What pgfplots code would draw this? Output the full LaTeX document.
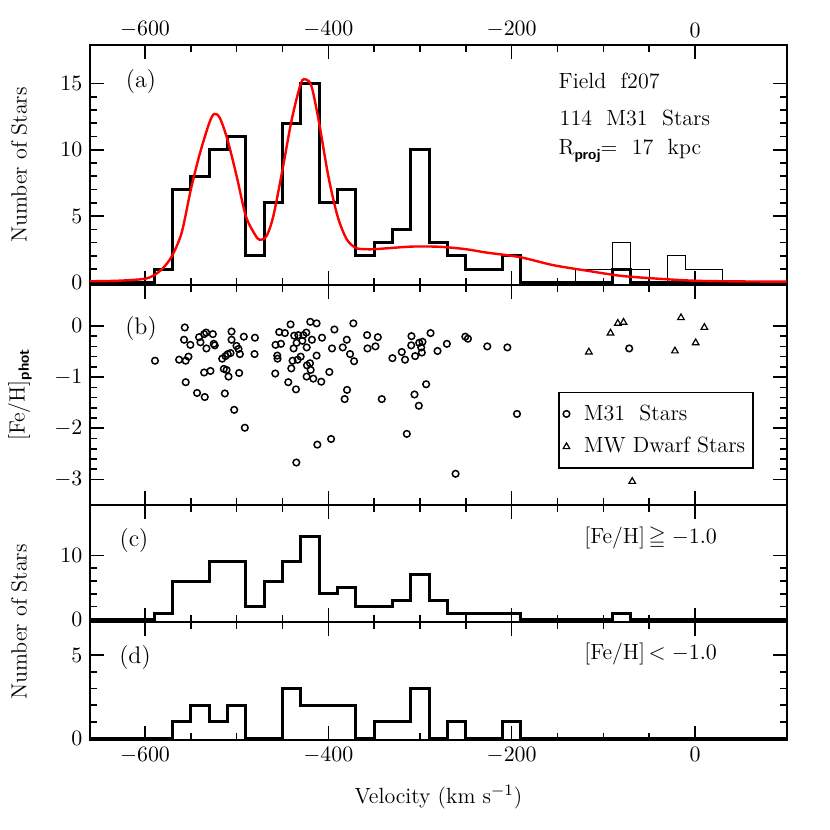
\documentclass[border=0pt]{standalone}
\usepackage{pgfplots}
\usepackage{amssymb}
\pgfplotsset{compat=1.18}
\newcommand{\sub}[1]{\raisebox{-0.45ex}{\fontsize{7.5}{8}\selectfont\sffamily\bfseries #1}}
\begin{document}
\fontsize{11}{13}\selectfont
\begin{tikzpicture}
\path[use as bounding box] (0,0) rectangle (415pt,415pt);
\pgfplotsset{
  myax/.style={
    scale only axis, width=348.35pt, anchor=south west,
    xmin=-660, xmax=100,
    xtick={-600,-400,-200,0}, minor x tick num=3,
    minor y tick num=4,
    tick align=inside,
    xtick pos=both, ytick pos=both,
    major tick length=7pt, minor tick length=3.5pt,
    axis line style={line width=1pt},
    every tick/.style={black, line width=0.8pt},
    tick label style={font=\fontsize{11}{13}\selectfont},
  },
  hist/.style={const plot, black, line width=1.5pt, mark=none},
}
% ---------------- panel (a)
\begin{axis}[myax, at={(45pt,272.5pt)}, height=120pt,
  ymin=-0.2, ymax=17.9, ytick={0,5,10,15}, xticklabel pos=upper]
\addplot[const plot, black, line width=0.5pt, mark=none] coordinates {
(-660,0) (-590,1) (-570,7) (-550,8) (-530,10) (-510,11) (-490,2) (-470,6)
(-450,12) (-430,15) (-410,6) (-390,7) (-370,2) (-350,3) (-330,4) (-310,10)
(-290,3) (-270,2) (-250,1) (-230,1) (-210,2) (-190,0) (-130,1) (-110,1)
(-90,3) (-70,1) (-50,0) (-30,2) (-10,1) (10,1) (30,0) (100,0)};
\addplot[hist] coordinates {
(-660,0) (-590,1) (-570,7) (-550,8) (-530,10) (-510,11) (-490,2) (-470,6)
(-450,12) (-430,15) (-410,6) (-390,7) (-370,2) (-350,3) (-330,4) (-310,10)
(-290,3) (-270,2) (-250,1) (-230,1) (-210,2) (-190,0) (-90,1) (-70,0) (100,0)};
\addplot[red, line width=1.2pt, smooth, mark=none] coordinates {
(-660,0.08) (-630,0.12) (-602,0.25) (-591,0.5) (-580,1.1) (-570.5,2) (-560,3.75)
(-550,7) (-540,9.75) (-530,12) (-524.6,12.7) (-518.4,12.4) (-510,10.75) (-500,8)
(-490,5) (-480,3.6) (-474.7,3.2) (-467.4,3.5) (-460,5) (-450,8.5) (-440,12.25)
(-430,15) (-424.4,15.3) (-418.2,14.75) (-410,12) (-400,8) (-390,5) (-380,3.25)
(-370,2.6) (-360,2.5) (-350,2.5) (-330,2.6) (-307,2.7) (-278,2.68) (-250,2.5)
(-228,2.25) (-191,1.9) (-155,1.3) (-118,0.88) (-82,0.5) (-46,0.3) (0,0.12) (50,0.07) (100,0.05)};
\end{axis}
% ---------------- panel (b)
\begin{axis}[myax, at={(45pt,162.5pt)}, height=110pt,
  ymin=-3.5, ymax=0.8, ytick={-3,-2,-1,0}, xticklabels={},
  legend style={at={(0.953,0.164)}, anchor=south east, draw=black, line width=0.8pt,
    font=\fontsize{11}{13}\selectfont, row sep=3pt, inner xsep=2pt, inner ysep=4pt,
    cells={anchor=west}},
  legend cell align=left]
\addplot[only marks, mark=o, mark size=1.65pt, mark options={line width=0.75pt, black}] coordinates {
(-589.1,-0.68) (-562.8,-0.66) (-556.6,-0.03) (-557.4,-0.27) (-550.5,-0.37) (-555.6,-0.68)
(-552.6,-0.60) (-555.6,-1.10) (-543.2,-1.31) (-534.8,-1.39) (-541.0,-0.22) (-535.5,-0.16)
(-533.3,-0.13) (-526.0,-0.16) (-539.5,-0.32) (-533.0,-0.44) (-525.0,-0.35) (-523.9,-0.38)
(-535.5,-0.91) (-528.6,-0.88) (-515.8,-0.64) (-512.2,-0.59) (-509.7,-0.55) (-506.7,-0.53)
(-514.0,-0.84) (-511.0,-0.86) (-508.9,-0.99) (-512.9,-1.32) (-505.6,-0.11) (-505.6,-0.27)
(-500.2,-0.39) (-496.5,-0.55) (-497.3,-0.92) (-492.2,-0.21) (-480.1,-0.23) (-480.5,-0.55)
(-502.7,-1.64) (-491.1,-1.99) (-457.6,-0.37) (-451.7,-0.35) (-453.6,-0.12) (-447.4,-0.14)
(-441.2,0.03) (-455.7,-0.58) (-455.4,-0.64) (-457.9,-0.93) (-443.7,-1.10) (-435.3,-1.24)
(-437.2,-0.19) (-432.8,-0.18) (-427.3,-0.18) (-424.0,-0.13) (-419.7,0.08) (-412.8,0.05)
(-437.9,-0.44) (-434.6,-0.33) (-428.4,-0.29) (-423.6,-0.42) (-417.9,-0.27) (-406.9,-0.23)
(-439.0,-0.68) (-433.5,-0.66) (-430.2,-0.60) (-440.4,-0.83) (-423.3,-0.77) (-420.0,-0.73)
(-419.3,-0.86) (-423.7,-0.99) (-416.4,-1.03) (-412.8,-0.58) (-407.7,-1.09) (-398.9,-0.90)
(-396.0,-0.44) (-393.4,-0.07) (-434.9,-2.67) (-412.0,-2.32) (-397.0,-2.21) (-384.3,-0.42)
(-379.9,-0.27) (-376.3,-0.55) (-372.7,0.05) (-371.9,-0.69) (-379.6,-1.25) (-382.2,-1.43)
(-357.7,-0.18) (-357.3,-0.44) (-348.6,-0.40) (-346.0,-0.22) (-341.7,-1.43) (-330.1,-0.63)
(-319.9,-0.51) (-316.3,-0.66) (-309.6,-0.38) (-309.3,-0.20) (-305.3,-0.59) (-300.9,-0.33)
(-297.3,-0.31) (-298.0,-0.52) (-288.5,-0.14) (-280.9,-0.49) (-306.0,-1.34) (-301.3,-1.56)
(-293.3,-1.14) (-314.4,-2.11) (-298.7,-0.42) (-270.7,-0.35) (-261.2,-2.89) (-250.6,-0.21)
(-247.7,-0.25) (-226.6,-0.40) (-204.7,-0.42) (-194.2,-1.72) (-71.8,-0.44) (-498.0,-0.45)};
\addlegendentry{\hspace{5pt}M31\ \ Stars}
\addplot[only marks, mark=triangle, mark size=1.9pt, mark options={line width=0.6pt, black}] coordinates {
(-115.8,-0.51) (-92.2,-0.14) (-84.2,0.05) (-78.0,0.07) (-15.3,0.16) (10.2,-0.03)
(0.7,-0.33) (-21.9,-0.49) (-68.5,-3.04)};
\addlegendentry{\hspace{5pt}MW\ Dwarf\ Stars}
\end{axis}
% ---------------- panel (c)
\begin{axis}[myax, at={(45pt,104pt)}, height=58.5pt,
  ymin=-0.4, ymax=17.9, ytick={0,10}, xticklabels={}]
\addplot[hist] coordinates {
(-660,0) (-590,1) (-570,6) (-530,9) (-490,2) (-470,6) (-450,9) (-430,13) (-410,4)
(-390,5) (-370,2) (-330,3) (-310,7) (-290,3) (-270,1) (-190,0) (-90,1) (-70,0) (100,0)};
\end{axis}
% ---------------- panel (d)
\begin{axis}[myax, at={(45pt,45pt)}, height=59pt,
  ymin=-0.1, ymax=7, ytick={0,5}]
\addplot[hist] coordinates {
(-660,0) (-570,1) (-550,2) (-530,1) (-510,2) (-490,0) (-450,3) (-430,2) (-370,0)
(-350,1) (-310,3) (-290,0) (-270,1) (-250,0) (-210,1) (-190,0) (100,0)};
\end{axis}
% ---------------- labels
\node[rotate=90] at (9.5pt,332.5pt) {Number\ of\ Stars};
\node[rotate=90] at (10pt,217.5pt) {[Fe/H]\sub{phot}};
\node[rotate=90] at (9.5pt,104pt) {Number\ of\ Stars};
\node at (219.2pt,16.5pt) {Velocity (km s$^{-1}$)};
\node[font=\fontsize{12}{14}\selectfont] at (70.5pt,374pt) {(a)};
\node[font=\fontsize{12}{14}\selectfont] at (70.5pt,250.5pt) {(b)};
\node[font=\fontsize{12}{14}\selectfont] at (67pt,144.5pt) {(c)};
\node[font=\fontsize{12}{14}\selectfont] at (67.5pt,86pt) {(d)};
\node[anchor=base west] at (275.5pt,370.5pt) {Field\ \ f207};
\node[anchor=base west] at (276pt,352pt) {114\ \ M31\ \ Stars};
\node[anchor=base west] at (275.5pt,337.5pt) {R\sub{proj}=\ \ 17\ \ kpc};
\node[anchor=base west] at (288.3pt,143.3pt) {[Fe/H]\,$\geqq{-}1.0$};
\node[anchor=base west] at (288.3pt,85pt) {[Fe/H]\,$<{-}1.0$};
\end{tikzpicture}
\end{document}
